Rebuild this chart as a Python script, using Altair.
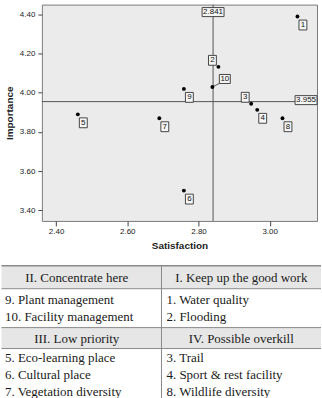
import altair as alt
import pandas as pd

# ---------------- data ----------------
point_ids = ["1", "2", "3", "4", "5", "6", "7", "8", "9", "10"]
satisfaction = [3.078, 2.856, 2.948, 2.965, 2.461, 2.759, 2.690, 3.036, 2.759, 2.839]
importance = [4.390, 4.133, 3.944, 3.913, 3.890, 3.500, 3.870, 3.870, 4.020, 4.030]
label_side = ["br", "tl", "tl", "br", "br", "br", "br", "br", "br", "tr"]

mean_satisfaction = 2.841
mean_importance = 3.955
x_ticks = [2.40, 2.60, 2.80, 3.00]
y_ticks = [3.40, 3.60, 3.80, 4.00, 4.20, 4.40]

quadrant_titles = ["II. Concentrate here", "I. Keep up the good work",
                   "III. Low priority", "IV. Possible overkill"]
quadrant_items = [
    ["9. Plant management", "10. Facility management"],
    ["1. Water quality", "2. Flooding"],
    ["5. Eco-learning place", "6. Cultural place", "7. Vegetation diversity"],
    ["3. Trail", "4. Sport & rest facility", "8. Wildlife diversity"],
]

# ---------------- styles / layout ----------------
SANS = "Liberation Sans"
SERIF = "Liberation Serif"
W, H = 276, 217
XD = [2.360, 3.133]
YD = [3.345, 4.451]
pxx = W / (XD[1] - XD[0])
pxy = H / (YD[1] - YD[0])
OFF = {"br": (5.5, 8.5), "tl": (-6.0, -6.5), "tr": (12.5, -8.0)}
LEAD = {"br": (0, 0), "tl": (0, 0), "tr": (7.0, -3.5)}
BOX1 = "M-0.36,-0.45L0.36,-0.45L0.36,0.45L-0.36,0.45Z"
BOX2 = "M-0.5,-0.41L0.5,-0.41L0.5,0.41L-0.5,0.41Z"
BOXREF = "M-1,-0.41L1,-0.41L1,0.41L-1,0.41Z"
BOXSIZE = 484

df = pd.DataFrame({"id": point_ids, "s": satisfaction, "i": importance, "side": label_side})
df["lx"] = df["s"] + df["side"].map(lambda k: OFF[k][0]) / pxx
df["ly"] = df["i"] - df["side"].map(lambda k: OFF[k][1]) / pxy
df["ex"] = df["s"] + df["side"].map(lambda k: LEAD[k][0]) / pxx
df["ey"] = df["i"] - df["side"].map(lambda k: LEAD[k][1]) / pxy
df["box"] = df["id"].map(lambda t: BOX1 if len(t) == 1 else BOX2)

xscale = alt.Scale(domain=XD, nice=False, zero=False)
yscale = alt.Scale(domain=YD, nice=False, zero=False)
xaxis = alt.Axis(values=x_ticks, format=".2f", title="Satisfaction", grid=False, domain=False,
                 tickSize=5, tickColor="#444", labelFontSize=8, labelFont=SANS, labelColor="#222",
                 labelPadding=2, titleFont=SANS, titleFontSize=10, titleFontWeight="bold",
                 titleColor="#222", titlePadding=5)
yaxis = alt.Axis(values=y_ticks, format=".2f", title="Importance", grid=False, domain=False,
                 tickSize=4, tickColor="#444", labelFontSize=8, labelFont=SANS, labelColor="#222",
                 labelPadding=3, titleFont=SANS, titleFontSize=10, titleFontWeight="bold",
                 titleColor="#222", titlePadding=5)


def X(f):
    return alt.X(f, type="quantitative", scale=xscale, axis=xaxis)


def Y(f):
    return alt.Y(f, type="quantitative", scale=yscale, axis=yaxis)


base = alt.Chart(df)
vline = alt.Chart(pd.DataFrame({"v": [mean_satisfaction]})).mark_rule(
    color="#555", strokeWidth=1).encode(x=X("v"))
hline = alt.Chart(pd.DataFrame({"v": [mean_importance]})).mark_rule(
    color="#555", strokeWidth=1).encode(y=Y("v"))
leader = base.transform_filter("datum.side == 'tr'").mark_rule(
    color="#333", strokeWidth=0.8).encode(x=X("s"), y=Y("i"), x2="ex:Q", y2="ey:Q")
points = base.mark_circle(size=15, color="black", opacity=1).encode(x=X("s"), y=Y("i"))
boxes = base.mark_point(filled=True, fill="#f6f6f6", stroke="#333", strokeWidth=0.9,
                        size=BOXSIZE, opacity=1, fillOpacity=1, strokeOpacity=1).encode(
    x=X("lx"), y=Y("ly"), shape=alt.Shape("box:N", scale=None))
labels = base.mark_text(font=SANS, fontSize=8, color="#111", baseline="middle").encode(
    x=X("lx"), y=Y("ly"), text="id:N")

vref = pd.DataFrame({"v": [mean_satisfaction], "t": [f"{mean_satisfaction:.3f}"]})
href = pd.DataFrame({"v": [mean_importance], "t": [f"{mean_importance:.3f}"]})
vref_box = alt.Chart(vref).mark_point(shape=BOXREF, size=BOXSIZE, filled=True, fill="#f6f6f6",
                                      stroke="#333", strokeWidth=0.9, opacity=1).encode(
    x=X("v"), y=alt.value(7.5))
vref_txt = alt.Chart(vref).mark_text(font=SANS, fontSize=8, color="#111", baseline="middle").encode(
    x=X("v"), y=alt.value(7.5), text="t:N")
href_box = alt.Chart(href).mark_point(shape=BOXREF, size=BOXSIZE, filled=True, fill="#f6f6f6",
                                      stroke="#333", strokeWidth=0.9, opacity=1, yOffset=-1.5).encode(
    x=alt.value(265), y=Y("v"))
href_txt = alt.Chart(href).mark_text(font=SANS, fontSize=8, color="#111", baseline="middle",
                                     yOffset=-1.5).encode(
    x=alt.value(265), y=Y("v"), text="t:N")

scatter = alt.layer(vline, hline, leader, points, boxes, labels,
                    vref_box, vref_txt, href_box, href_txt).properties(
    width=W, height=H,
    view=alt.ViewBackground(fill="#ebebeb", stroke="#7a7a7a", strokeWidth=1))

# ---------------- table ----------------
TW, TH = 280, 134
LEFT = 41            # absolute x of the table group origin
HEADER_CX = [76 - LEFT, 241 - LEFT]
ITEM_X = [4 - LEFT, 166 - LEFT]
BANDS = [(0, 23), (62, 83)]
ITEM_Y0 = [34, 93]
LINE_H = 17

rows = []
for q, (title, items) in enumerate(zip(quadrant_titles, quadrant_items)):
    sec, col = divmod(q, 2)
    rows.append({"text": title, "kind": "header",
                 "tx": HEADER_CX[col], "ty": (BANDS[sec][0] + BANDS[sec][1]) / 2 + 0.5})
    for k, it in enumerate(items):
        rows.append({"text": it, "kind": "item",
                     "tx": ITEM_X[col], "ty": ITEM_Y0[sec] + k * LINE_H})
tdf = pd.DataFrame(rows)

bands_df = pd.DataFrame({"y0": [b[0] for b in BANDS], "y1": [b[1] for b in BANDS]})
hl_df = pd.DataFrame({"y": [BANDS[0][1], BANDS[1][0], BANDS[1][1]]})
top_df = pd.DataFrame({"y": [BANDS[0][0]]})

band_layer = alt.Chart(bands_df).mark_rect(color="#e6e6e6").encode(
    x=alt.value(-40.5), x2=alt.value(TW),
    y=alt.Y("y0:Q", scale=None), y2="y1:Q")
hl_layer = alt.Chart(hl_df).mark_rule(color="#8a8a8a", strokeWidth=1).encode(
    x=alt.value(-40.5), x2=alt.value(TW), y=alt.Y("y:Q", scale=None))
top_layer = alt.Chart(top_df).mark_rule(color="#8a8a8a", strokeWidth=1.5).encode(
    x=alt.value(-40.5), x2=alt.value(TW), y=alt.Y("y:Q", scale=None))
vdiv = alt.Chart(top_df).mark_rule(color="#8a8a8a", strokeWidth=1).encode(
    x=alt.value(161 - LEFT), y=alt.Y("y:Q", scale=None), y2=alt.value(TH))
head_txt = alt.Chart(tdf).transform_filter("datum.kind == 'header'").mark_text(
    font=SERIF, fontSize=13, color="#1a1a1a", align="center", baseline="middle").encode(
    x=alt.X("tx:Q", scale=None), y=alt.Y("ty:Q", scale=None), text="text:N")
item_txt = alt.Chart(tdf).transform_filter("datum.kind == 'item'").mark_text(
    font=SERIF, fontSize=13, color="#1a1a1a", align="left", baseline="middle").encode(
    x=alt.X("tx:Q", scale=None), y=alt.Y("ty:Q", scale=None), text="text:N")

table = alt.layer(band_layer, hl_layer, top_layer, vdiv, head_txt, item_txt).properties(
    width=TW, height=TH,
    view=alt.ViewBackground(fill="white", strokeWidth=0, strokeOpacity=0))

chart = alt.vconcat(scatter, table, spacing=13).properties(
    padding={"left": 0, "top": 3, "right": 0, "bottom": 0},
    background="white")

chart.save("out.html", embed_options={"renderer": "svg", "actions": False})
